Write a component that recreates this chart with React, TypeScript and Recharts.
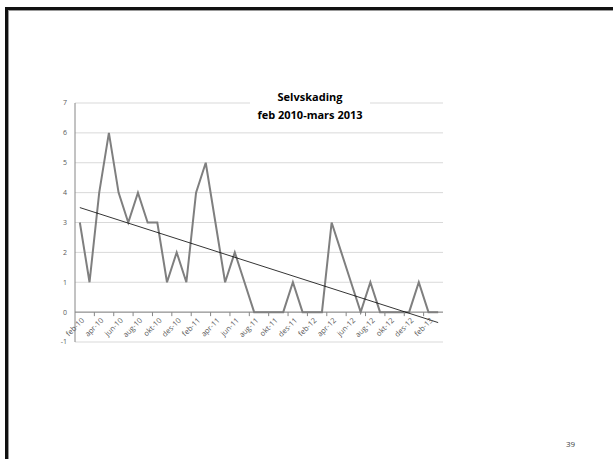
import { LineChart, Line, XAxis, YAxis, CartesianGrid, ReferenceLine } from 'recharts';

const months = [
  'feb-10', 'mar-10', 'apr-10', 'mai-10', 'jun-10', 'jul-10', 'aug-10', 'sep-10', 'okt-10', 'nov-10', 'des-10',
  'jan-11', 'feb-11', 'mar-11', 'apr-11', 'mai-11', 'jun-11', 'jul-11', 'aug-11', 'sep-11', 'okt-11', 'nov-11', 'des-11',
  'jan-12', 'feb-12', 'mar-12', 'apr-12', 'mai-12', 'jun-12', 'jul-12', 'aug-12', 'sep-12', 'okt-12', 'nov-12', 'des-12',
  'jan-13', 'feb-13', 'mar-13',
];

const selvskading = [
  3, 1, 4, 6, 4, 3, 4, 3, 3, 1, 2,
  1, 4, 5, 3, 1, 2, 1, 0, 0, 0, 0, 1,
  0, 0, 0, 3, 2, 1, 0, 1, 0, 0, 0, 0,
  1, 0, 0,
];

// linear trend line, start and end
const trendEnds = [3.5, -0.35];

const yTicks = [-1, 0, 1, 2, 3, 4, 5, 6, 7];

const data = months.map((m, i) => ({ month: m, value: selvskading[i] }));

// plot box
const PLOT_LEFT = 75;
const PLOT_TOP = 103;
const PLOT_W = 368;
const PLOT_H = 239;
const Y_ZERO = PLOT_TOP + (PLOT_H * 7) / 8;
const BAND = PLOT_W / months.length;

const FONT = '"Open Sans", "Noto Sans", sans-serif';

const MonthTick = (props: any) => {
  const { x, payload, index } = props;
  const tx = x + 3;
  const ty = Y_ZERO + 7;
  return (
    <g>
      {index > 0 && (
        <line x1={x - BAND / 2} x2={x - BAND / 2} y1={Y_ZERO} y2={Y_ZERO + 4} stroke="#868686" />
      )}
      <text
        x={tx}
        y={ty}
        dy="0.35em"
        transform={`rotate(-45 ${tx} ${ty})`}
        textAnchor="end"
        fontSize={7.5}
        fontFamily={FONT}
        fill="#595959"
      >
        {payload.value}
      </text>
    </g>
  );
};

export default function App() {
  return (
    <div style={{ position: 'absolute', left: 0, top: 0, width: 613, height: 459, overflow: 'hidden', background: '#fff' }}>
      <div
        style={{
          position: 'absolute',
          left: 5,
          top: 7,
          width: 700,
          height: 600,
          borderLeft: '3px solid #111',
          borderTop: '3px solid #111',
          boxShadow: 'inset 1px 1px 0 #999',
        }}
      />
      <div style={{ position: 'absolute', left: 0, top: 0 }}>
        <LineChart
          width={613}
          height={459}
          data={data}
          margin={{ top: PLOT_TOP, right: 613 - PLOT_LEFT - PLOT_W, bottom: 459 - PLOT_TOP - PLOT_H - 30, left: PLOT_LEFT - 30 }}
        >
          <CartesianGrid vertical={false} stroke="#d9d9d9" />
          <XAxis
            dataKey="month"
            interval={1}
            axisLine={false}
            tickLine={false}
            height={30}
            padding={{ left: BAND / 2, right: BAND / 2 }}
            tick={<MonthTick />}
          />
          <YAxis
            domain={[-1, 7]}
            ticks={yTicks}
            width={30}
            stroke="#868686"
            tickLine={false}
            tick={{ fontSize: 7, fill: '#595959', fontFamily: FONT }}
          />
          <ReferenceLine y={0} stroke="#868686" />
          <Line type="linear" dataKey="value" stroke="#7f7f7f" strokeWidth={2} dot={false} isAnimationActive={false} />
          <ReferenceLine
            segment={[
              { x: months[0], y: trendEnds[0] },
              { x: months[months.length - 1], y: trendEnds[1] },
            ]}
            stroke="#000"
            strokeWidth={0.8}
          />
        </LineChart>
      </div>
      <div
        style={{
          position: 'absolute',
          left: 250,
          top: 88,
          width: 120,
          background: '#fff',
          textAlign: 'center',
          fontFamily: FONT,
          fontWeight: 700,
          fontSize: 11,
          lineHeight: '18px',
          color: '#000',
        }}
      >
        Selvskading
        <br />
        feb 2010-mars 2013
      </div>
      <div style={{ position: 'absolute', left: 566, top: 438, fontFamily: FONT, fontSize: 8, color: '#404040' }}>39</div>
    </div>
  );
}
